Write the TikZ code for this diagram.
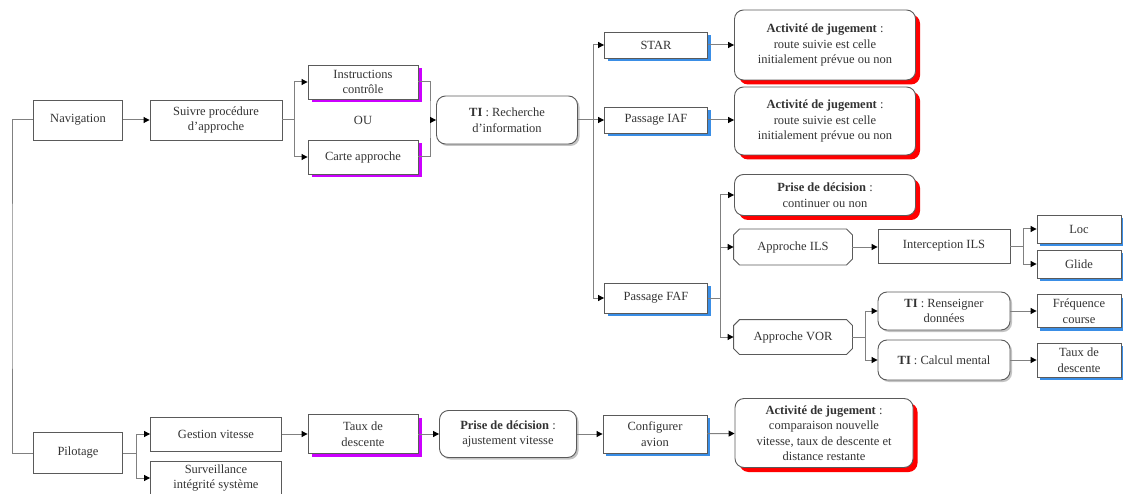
\documentclass[tikz,border=0pt]{standalone}
\usepackage{fontspec}
\setmainfont{Liberation Serif}
\usetikzlibrary{shadows,arrows.meta}

\definecolor{boxline}{HTML}{5A5A5A}
\definecolor{linkgray}{HTML}{808080}
\definecolor{purpleshade}{HTML}{CC00FF}
\definecolor{blueshade}{HTML}{3A8EE6}
\definecolor{redshade}{HTML}{FF0000}
\definecolor{grayshade}{HTML}{C4C4C4}

\tikzset{
  plainbox/.style={draw=boxline, fill=white, line width=0.9pt, align=center, inner sep=0pt,
    font=\fontsize{12.5}{15.5}\selectfont, text=black!80},
  purplebox/.style={plainbox, drop shadow={shadow xshift=3.5pt, shadow yshift=-3.5pt, fill=purpleshade, opacity=1}},
  bluebox/.style={plainbox, drop shadow={shadow xshift=3pt, shadow yshift=-3pt, fill=blueshade, opacity=1}},
  redbox/.style={plainbox, rounded corners=9pt, drop shadow={shadow xshift=4.5pt, shadow yshift=-4.5pt, fill=redshade, opacity=1}},
  roundbox/.style={plainbox, rounded corners=9pt, drop shadow={shadow xshift=2pt, shadow yshift=-2pt, fill=grayshade, opacity=1}},
  cutbox/.style={plainbox, draw=none, fill=none},
  cutline/.style={draw=boxline, line width=0.9pt},
  link/.style={draw=linkgray, line width=1pt},
  arrowlink/.style={link, -{Triangle[length=6pt,width=6pt,color=black]}},
}

\begin{document}
\begin{tikzpicture}[x=1pt, y=-1pt]
\useasboundingbox (0,0) rectangle (1123,494);

% Navigation branch
\node[plainbox, minimum width=89, minimum height=40] (navigation) at (78,120) {Navigation};
\node[plainbox, minimum width=132, minimum height=40] (suivre_procedure) at (216,120) {Suivre procédure\\d'approche};
\node[purplebox, minimum width=110, minimum height=34] (instructions) at (363,82) {Instructions\\contrôle};
\node[font=\fontsize{12.5}{15.5}\selectfont, text=black!80] (ou_label) at (363,120) {OU};
\node[purplebox, minimum width=110, minimum height=34] (carte_approche) at (363,157) {Carte approche};
\node[roundbox, minimum width=141, minimum height=48] (ti_recherche) at (507,120) {\textbf{TI} : Recherche\\d'information};

\node[bluebox, minimum width=103, minimum height=26] (star) at (656,45) {STAR};
\node[bluebox, minimum width=103, minimum height=26] (passage_iaf) at (656,120) {Passage IAF};
\node[bluebox, minimum width=103, minimum height=30] (passage_faf) at (656,298) {Passage FAF};
\node[redbox, minimum width=181, minimum height=70] (jugement_star) at (825,45) {\textbf{Activité de jugement} :\\route suivie est celle\\initialement prévue ou non};
\node[redbox, minimum width=181, minimum height=68] (jugement_iaf) at (825,121) {\textbf{Activité de jugement} :\\route suivie est celle\\initialement prévue ou non};
\node[redbox, minimum width=181, minimum height=41] (decision_faf) at (825,195) {\textbf{Prise de décision} :\\continuer ou non};
\node[cutbox, minimum width=118, minimum height=35] (approche_ils) at (793,247) {Approche ILS};
\node[cutbox, minimum width=118, minimum height=34] (approche_vor) at (793,337) {Approche VOR};
\node[plainbox, minimum width=132, minimum height=34] (interception_ils) at (944,246) {Interception ILS};
\node[bluebox, minimum width=84, minimum height=28] (loc) at (1079,229) {Loc};
\node[bluebox, minimum width=84, minimum height=28] (glide) at (1079,264) {Glide};
\node[roundbox, minimum width=132, minimum height=38] (ti_renseigner) at (944,311) {\textbf{TI} : Renseigner\\données};
\node[roundbox, minimum width=132, minimum height=40] (ti_calcul) at (944,360) {\textbf{TI} : Calcul mental};
\node[bluebox, minimum width=84, minimum height=33] (frequence) at (1079,311) {Fréquence\\course};
\node[bluebox, minimum width=84, minimum height=34] (taux_vor) at (1079,360) {Taux de\\descente};

% cut corners of the two approach boxes
\foreach \cut in {approche_ils, approche_vor}
  \draw[cutline] ([xshift=6pt]\cut.north west) -- ([xshift=-6pt]\cut.north east)
    -- ([yshift=-6pt]\cut.north east) -- ([yshift=6pt]\cut.south east)
    -- ([xshift=-6pt]\cut.south east) -- ([xshift=6pt]\cut.south west)
    -- ([yshift=6pt]\cut.south west) -- ([yshift=-6pt]\cut.north west) -- cycle;

% Pilotage branch
\node[plainbox, minimum width=89, minimum height=41] (pilotage) at (78,453) {Pilotage};
\node[plainbox, minimum width=131, minimum height=34] (gestion_vitesse) at (216,434) {Gestion vitesse};
\node[plainbox, minimum width=131, minimum height=34] (surveillance) at (216,478) {Surveillance\\intégrité système};
\node[purplebox, minimum width=110, minimum height=39] (taux_pilotage) at (363,434) {Taux de\\descente};
\node[roundbox, minimum width=137, minimum height=47] (decision_vitesse) at (508,434) {\textbf{Prise de décision} :\\ajustement vitesse};
\node[bluebox, minimum width=104, minimum height=38] (configurer) at (655,434) {Configurer\\avion};
\node[redbox, minimum width=178, minimum height=69] (jugement_vitesse) at (824,433) {\textbf{Activité de jugement} :\\comparaison nouvelle\\vitesse, taux de descente et\\distance restante};

\coordinate (root) at (12,286);
\coordinate (fork_suivre) at (294,120);
\coordinate (join_ou) at (430,120);
\coordinate (fork_ti) at (593,120);
\coordinate (fork_faf) at (720,298);
\coordinate (fork_ils) at (1023,246);
\coordinate (fork_vor) at (865,337);
\coordinate (fork_pilotage) at (136,453);

\draw[link] (navigation.west) -| (root) |- (pilotage.west);
\draw[arrowlink] (navigation) -- (suivre_procedure);
\draw[link] (suivre_procedure) -- (fork_suivre);
\draw[arrowlink] (fork_suivre) |- (instructions);
\draw[arrowlink] (fork_suivre) |- (carte_approche);
\draw[link] (instructions.east) -| (join_ou) |- (carte_approche.east);
\draw[arrowlink] (join_ou) -- (ti_recherche);
\draw[link] (ti_recherche) -- (fork_ti);
\draw[arrowlink] (fork_ti) |- (star);
\draw[arrowlink] (fork_ti) |- (passage_iaf);
\draw[arrowlink] (fork_ti) |- (passage_faf);
\draw[arrowlink] (star) -- (jugement_star);
\draw[arrowlink] (passage_iaf) -- (jugement_iaf.west |- passage_iaf);
\draw[link] (passage_faf) -- (fork_faf);
\draw[arrowlink] (fork_faf) |- (decision_faf);
\draw[arrowlink] (fork_faf) |- (approche_ils);
\draw[arrowlink] (fork_faf) |- (approche_vor);
\draw[arrowlink] (approche_ils) -- (interception_ils.west |- approche_ils);
\draw[link] (interception_ils) -- (fork_ils);
\draw[arrowlink] (fork_ils) |- (loc);
\draw[arrowlink] (fork_ils) |- (glide);
\draw[link] (approche_vor) -- (fork_vor);
\draw[arrowlink] (fork_vor) |- (ti_renseigner);
\draw[arrowlink] (fork_vor) |- (ti_calcul);
\draw[arrowlink] (ti_renseigner) -- (frequence);
\draw[arrowlink] (ti_calcul) -- (taux_vor);

\draw[link] (pilotage) -- (fork_pilotage);
\draw[arrowlink] (fork_pilotage) |- (gestion_vitesse);
\draw[arrowlink] (fork_pilotage) |- (surveillance);
\draw[arrowlink] (gestion_vitesse) -- (taux_pilotage);
\draw[arrowlink] (taux_pilotage) -- (decision_vitesse);
\draw[arrowlink] (decision_vitesse) -- (configurer);
\draw[arrowlink] (configurer) -- (jugement_vitesse);

\end{tikzpicture}
\end{document}
